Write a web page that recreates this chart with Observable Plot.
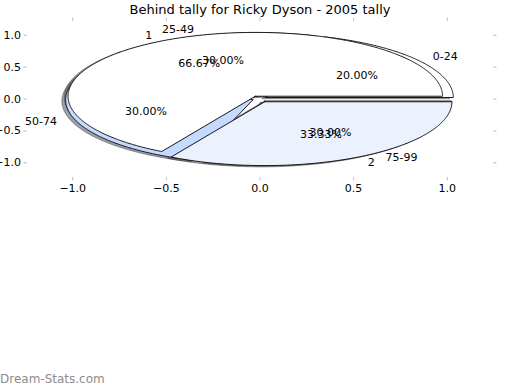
<!DOCTYPE html>
<html><head><meta charset="utf-8">
<script src="https://cdn.jsdelivr.net/npm/d3@7"></script>
<script src="https://cdn.jsdelivr.net/npm/@observablehq/plot@0.6"></script>
<style>
body{margin:0;background:#fff;}
#wrap{position:relative;width:520px;height:390px;overflow:hidden;font-family:"DejaVu Sans",sans-serif;}
#chart{position:absolute;left:0;top:0;}
#title{position:absolute;left:0;width:520px;top:2px;text-align:center;font-size:13px;color:#000;line-height:16px;}
#wm{position:absolute;left:0;top:372px;font-size:12px;color:#8c8c8c;line-height:14px;}
</style></head><body>
<div id="wrap"><div id="chart"></div><div id="title"></div><div id="wm"></div></div>
<script>
const chartTitle = "Behind tally for Ricky Dyson - 2005 tally";
const watermark = "Dream-Stats.com";

// Pie A: tally ranges
const rangeLabels = ["0-24", "25-49", "50-74", "75-99"];
const rangeShares = [20, 20, 30, 30];
const rangePctText = ["20.00%", "30.00%", "30.00%", "30.00%"];
const rangeColors = ["#ffffff", "#ffffff", "#c6daff", "#ffffff"];

// Pie B: groups
const groupLabels = ["1", "2"];
const groupShares = [66.67, 33.33];
const groupPctText = ["66.67%", "33.33%"];
const groupColors = ["#ffffff", "#ebf1fd"];

const xTicks = [-1, -0.5, 0, 0.5, 1];
const yTicks = [-1, -0.5, 0, 0.5, 1];

document.getElementById("title").textContent = chartTitle;
document.getElementById("wm").textContent = watermark;

function wedges(shares, labels, pct, colors, explode) {
  const total = d3.sum(shares);
  let a0 = 0;
  return shares.map((v, i) => {
    const a1 = a0 + v / total * 2 * Math.PI;
    const mid = (a0 + a1) / 2;
    const ox = explode * Math.cos(mid), oy = explode * Math.sin(mid);
    const pts = [{x: ox, y: oy}];
    const n = Math.max(2, Math.ceil((a1 - a0) / (Math.PI / 360)));
    for (let k = 0; k <= n; k++) {
      const t = a0 + (a1 - a0) * k / n;
      pts.push({x: ox + Math.cos(t), y: oy + Math.sin(t)});
    }
    pts.push({x: ox, y: oy});
    const w = {pts, color: colors[i], label: labels[i], pct: pct[i], mid, ox, oy};
    a0 = a1;
    return w;
  });
}

const pieA = wedges(rangeShares, rangeLabels, rangePctText, rangeColors, 0.04);
const pieB = wedges(groupShares, groupLabels, groupPctText, groupColors, 0.05);
const all = [...pieA, ...pieB];

function shade(c) {
  const r = d3.rgb(c);
  return d3.rgb(r.r * 0.3, r.g * 0.3, r.b * 0.3).formatHex();
}

const marks = [];
// shadows under everything
for (const w of all) {
  marks.push(Plot.line(w.pts.map(p => ({x: p.x - 0.02, y: p.y - 0.02})), {
    x: "x", y: "y", fill: shade(w.color), fillOpacity: 0.5,
    stroke: shade(w.color), strokeOpacity: 0.5, strokeWidth: 1
  }));
}
for (const w of all) {
  marks.push(Plot.line(w.pts, {
    x: "x", y: "y", fill: w.color, stroke: "#000", strokeWidth: 0.9, strokeLinejoin: "miter"
  }));
}
// labels
const catLabels = all.map(w => ({
  x: w.ox + 1.1 * Math.cos(w.mid), y: w.oy + 1.1 * Math.sin(w.mid), text: w.label
}));
const pctLabels = all.map(w => ({
  x: w.ox + 0.6 * Math.cos(w.mid), y: w.oy + 0.6 * Math.sin(w.mid), text: w.pct
}));
marks.push(Plot.text(catLabels.filter(d => d.x >= 0), {x: "x", y: "y", text: "text", textAnchor: "start", fill: "#000", fontSize: 11}));
marks.push(Plot.text(catLabels.filter(d => d.x < 0), {x: "x", y: "y", text: "text", textAnchor: "end", fill: "#000", fontSize: 11}));
marks.push(Plot.text(pctLabels, {x: "x", y: "y", text: "text", textAnchor: "middle", fill: "#000", fontSize: 11}));

const fmt = d => (d < 0 ? "\u2212" : "") + Math.abs(d).toFixed(1);
const tickGray = "#bdbdbd";
marks.push(Plot.axisX({anchor: "bottom", ticks: xTicks, tickSize: 3.5, tickPadding: 3, stroke: tickGray, fill: "#000", tickFormat: fmt, label: null, fontSize: 11}));
marks.push(Plot.axisX({anchor: "top", ticks: xTicks, tickSize: 3.5, stroke: tickGray, tickFormat: () => "", label: null}));
marks.push(Plot.axisY({anchor: "left", ticks: yTicks, tickSize: 3.5, tickPadding: 3, stroke: tickGray, fill: "#000", tickFormat: fmt, label: null, fontSize: 11}));
marks.push(Plot.axisY({anchor: "right", ticks: yTicks, tickSize: 3.5, stroke: tickGray, tickFormat: () => "", label: null}));

const chart = Plot.plot({
  width: 520,
  height: 390,
  marginLeft: 27,
  marginRight: 28,
  marginTop: 20,
  marginBottom: 213,
  style: {fontFamily: "DejaVu Sans, sans-serif", fontSize: "11px", background: "white", overflow: "visible"},
  x: {domain: [-1.2417, 1.2417], label: null},
  y: {domain: [-1.23, 1.23], label: null},
  marks
});
document.getElementById("chart").appendChild(chart);
</script>
</body></html>
